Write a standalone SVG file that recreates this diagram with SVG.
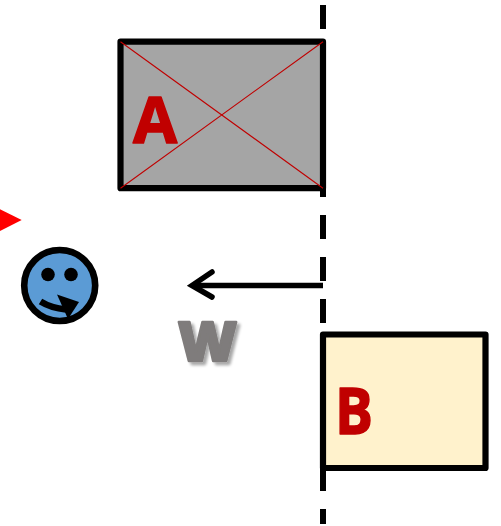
<svg xmlns="http://www.w3.org/2000/svg" width="501" height="526" viewBox="0 0 501 526">
  <style>
    .box { stroke: #000; stroke-width: 6.2; stroke-linejoin: round; }
    .cross { stroke: #c00000; stroke-width: 1.1; fill: none; }
    .lbl { font-family: "Open Sans", "Liberation Sans", sans-serif; font-weight: 700; fill: #c00000; stroke: #c00000; stroke-width: 1.5; stroke-linejoin: round; font-size: 64px; }
    .arrow { fill: none; stroke: #000; stroke-width: 5.5; }
  </style>
  <defs>
    <filter id="sh" x="-20%" y="-20%" width="150%" height="150%">
      <feGaussianBlur in="SourceAlpha" stdDeviation="1.6"/>
      <feOffset dx="2.5" dy="2.5"/>
      <feComponentTransfer><feFuncA type="linear" slope="0.35"/></feComponentTransfer>
      <feMerge><feMergeNode/><feMergeNode in="SourceGraphic"/></feMerge>
    </filter>
  </defs>
  <rect width="501" height="526" fill="#fff"/>
  <g id="connectors">
    <path id="wall" d="M323 5V524" fill="none" stroke="#000" stroke-width="6" stroke-dasharray="24 18"/>
    <path id="w-arrow" class="arrow" d="M323 285.500H193"/>
    <path id="w-arrow-head" class="arrow" d="M212 272L192 285.500L212 297" stroke-linecap="round"/>
  </g>
  <g id="node-a">
    <rect class="box" x="120.500" y="41.700" width="202.500" height="146.500" fill="#a5a5a5"/>
    <path class="cross" d="M120.500 41.700L323 188.200M323 41.700L120.500 188.200"/>
    <text class="lbl" x="133" y="142.500">A</text>
  </g>
  <g id="node-b">
    <rect class="box" x="323" y="334.500" width="162.500" height="133.500" fill="#fff2cc"/>
    <text class="lbl" x="335" y="433.500" textLength="38" lengthAdjust="spacingAndGlyphs">B</text>
  </g>
  <g id="w-label">
    <text x="178" y="361" font-family="'Open Sans', 'Liberation Sans', sans-serif" font-weight="800" font-size="55" fill="#7f7c7b" stroke="#7f7c7b" stroke-width="2.5" stroke-linejoin="round" filter="url(#sh)" textLength="59" lengthAdjust="spacingAndGlyphs">W</text>
  </g>
  <g id="marker-triangle">
    <path d="M0 209.300L21.700 220L0 231Z" fill="#f00"/>
  </g>
  <g id="face">
    <circle cx="59.700" cy="285.500" r="35.500" fill="#5b9bd5" stroke="#000" stroke-width="6.600"/>
    <circle cx="48" cy="274.500" r="6.800" fill="#000"/>
    <circle cx="71" cy="274.500" r="6.800" fill="#000"/>
    <path d="M40.500 301.500Q51 308 66 309.500" fill="none" stroke="#000" stroke-width="6.500"/>
    <path d="M57 294.500L79 302L68 319Z" fill="#000"/>
  </g>
</svg>
